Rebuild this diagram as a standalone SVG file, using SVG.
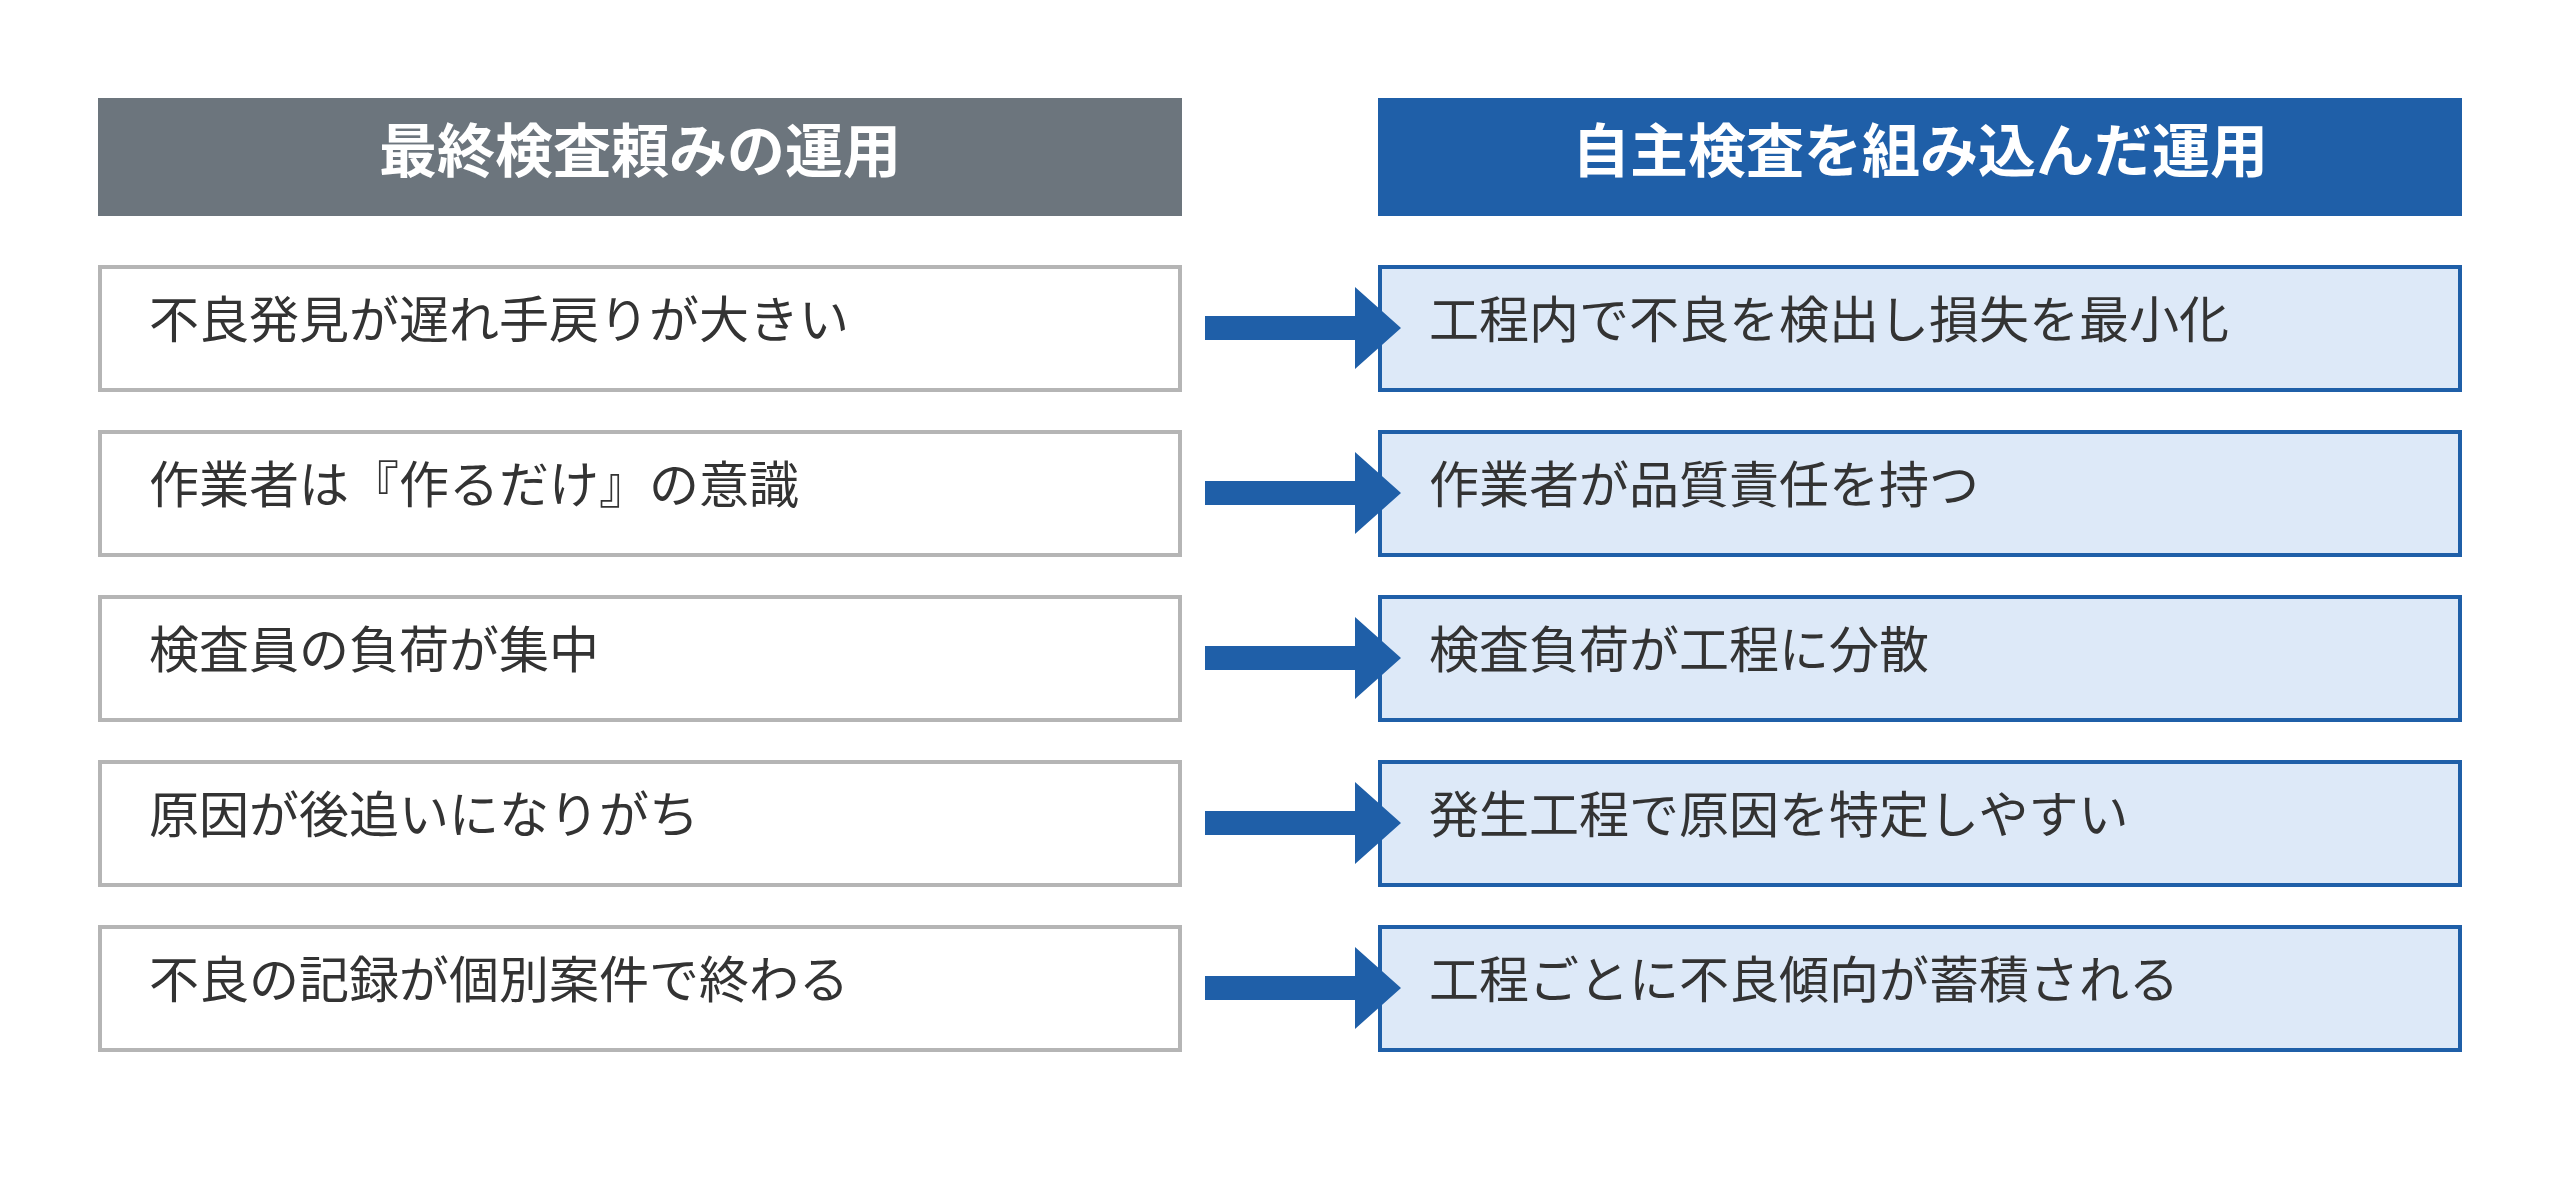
<svg xmlns="http://www.w3.org/2000/svg" width="2560" height="1191" viewBox="0 0 2560 1191">
<style>
.h{font-family:"Noto Sans CJK JP",sans-serif;font-weight:bold;font-size:58px;fill:#fff;text-anchor:middle}
.t{font-family:"Noto Sans CJK JP",sans-serif;font-size:50px;fill:#333}
.l{fill:#fff;stroke:#b5b5b5;stroke-width:4}
.r{fill:#dde9f8;stroke:#1f5fa8;stroke-width:4}
.a{fill:#1f5fa8}
</style>
<rect width="2560" height="1191" fill="#fff"/>
<g id="header-left"><rect x="98" y="98" width="1084" height="118" fill="#6c757d"/><text class="h" x="640" y="172">最終検査頼みの運用</text></g>
<g id="header-right"><rect x="1378" y="98" width="1084" height="118" fill="#1f5fa8"/><text class="h" x="1920" y="172">自主検査を組み込んだ運用</text></g>
<g id="l1"><rect class="l" x="100" y="267" width="1080" height="123"/><text class="t" x="149" y="338">不良発見が遅れ手戻りが大きい</text></g>
<g id="l2"><rect class="l" x="100" y="432" width="1080" height="123"/><text class="t" x="149" y="503">作業者は『作るだけ』の意識</text></g>
<g id="l3"><rect class="l" x="100" y="597" width="1080" height="123"/><text class="t" x="149" y="668">検査員の負荷が集中</text></g>
<g id="l4"><rect class="l" x="100" y="762" width="1080" height="123"/><text class="t" x="149" y="833">原因が後追いになりがち</text></g>
<g id="l5"><rect class="l" x="100" y="927" width="1080" height="123"/><text class="t" x="149" y="998">不良の記録が個別案件で終わる</text></g>
<g id="r1"><rect class="r" x="1380" y="267" width="1080" height="123"/><text class="t" x="1429" y="338">工程内で不良を検出し損失を最小化</text></g>
<g id="r2"><rect class="r" x="1380" y="432" width="1080" height="123"/><text class="t" x="1429" y="503">作業者が品質責任を持つ</text></g>
<g id="r3"><rect class="r" x="1380" y="597" width="1080" height="123"/><text class="t" x="1429" y="668">検査負荷が工程に分散</text></g>
<g id="r4"><rect class="r" x="1380" y="762" width="1080" height="123"/><text class="t" x="1429" y="833">発生工程で原因を特定しやすい</text></g>
<g id="r5"><rect class="r" x="1380" y="927" width="1080" height="123"/><text class="t" x="1429" y="998">工程ごとに不良傾向が蓄積される</text></g>
<g id="connectors">
<path class="a" d="M1205 316h150v-29l46 41-46 41v-29h-150z"/>
<path class="a" d="M1205 481h150v-29l46 41-46 41v-29h-150z"/>
<path class="a" d="M1205 646h150v-29l46 41-46 41v-29h-150z"/>
<path class="a" d="M1205 811h150v-29l46 41-46 41v-29h-150z"/>
<path class="a" d="M1205 976h150v-29l46 41-46 41v-29h-150z"/>
</g>
</svg>
